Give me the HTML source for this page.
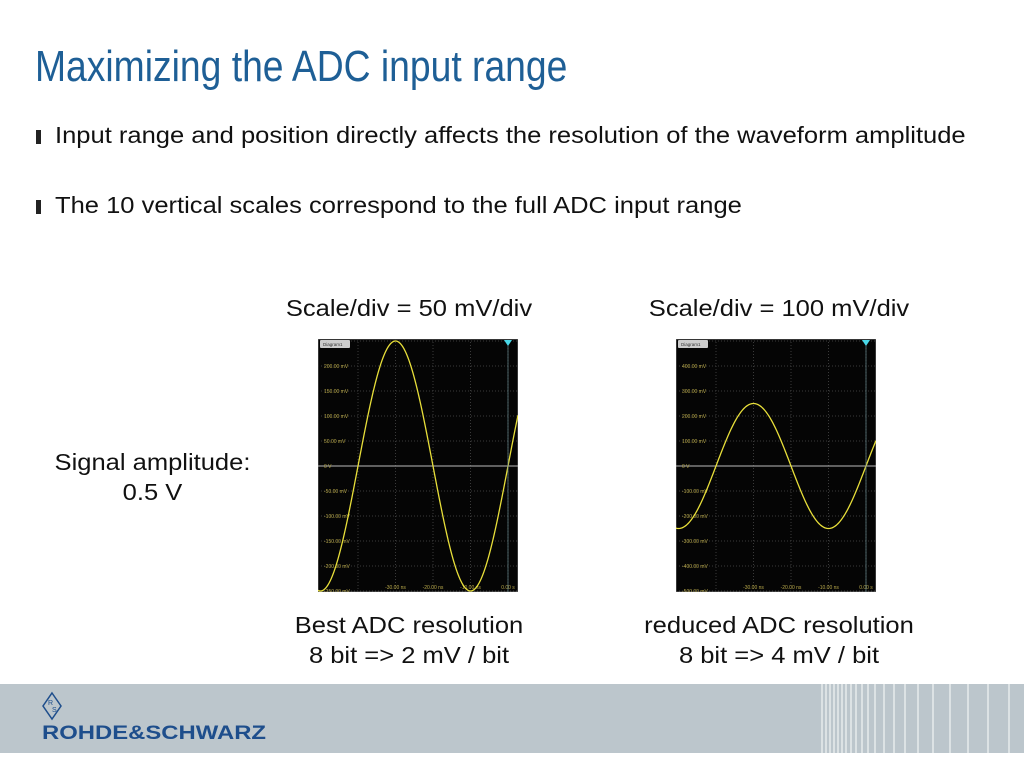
<!DOCTYPE html>
<html><head><meta charset="utf-8"><style>
body{margin:0;width:1024px;height:768px;background:#fff;position:relative;overflow:hidden;font-family:"Liberation Sans",sans-serif;}
.t{position:absolute;white-space:nowrap;color:#111;}
#title{left:35px;top:42px;font-size:44px;color:#1e5f96;transform:scaleX(0.847);transform-origin:left top;}
.b{font-size:23px;left:55px;transform:scaleX(1.11);transform-origin:left top;}
.bm{position:absolute;left:36px;width:5px;height:14px;background:#222;}
.c{font-size:23px;text-align:center;transform:scaleX(1.11);transform-origin:center top;}
#footer{position:absolute;left:0;top:684px;width:1024px;height:69px;background:#bcc6cc;}
</style></head><body>
<div class="t" id="title">Maximizing the ADC input range</div>
<div class="bm" style="top:130px"></div>
<div class="t b" style="top:122px">Input range and position directly affects the resolution of the waveform amplitude</div>
<div class="bm" style="top:200px"></div>
<div class="t b" style="top:192px">The 10 vertical scales correspond to the full ADC input range</div>
<div class="t c" style="left:259px;top:295px;width:300px">Scale/div = 50 mV/div</div>
<div class="t c" style="left:629px;top:295px;width:300px">Scale/div = 100 mV/div</div>
<div class="t c" style="left:50px;top:447px;width:205px;line-height:30px">Signal amplitude:<br>0.5 V</div>
<div class="t c" style="left:259px;top:610px;width:300px;line-height:30px">Best ADC resolution<br>8 bit =&gt; 2 mV / bit</div>
<div class="t c" style="left:629px;top:610px;width:300px;line-height:30px">reduced ADC resolution<br>8 bit =&gt; 4 mV / bit</div>
<svg id="s1" style="position:absolute;left:318px;top:339px" width="200" height="253"></svg>
<svg id="s2" style="position:absolute;left:676px;top:339px" width="200" height="253"></svg>
<div id="footer">
<svg style="position:absolute;left:0;top:0" width="1024" height="69">
<g><polygon points="52,9 61,22 52,35 43,22" fill="none" stroke="#1e4e8c" stroke-width="1.5"/><text x="48" y="21" font-size="7" fill="#1e4e8c" font-family="Liberation Sans">R</text><text x="52" y="28" font-size="7" fill="#1e4e8c" font-family="Liberation Sans">S</text></g>
<text x="42" y="55" font-size="19" font-weight="bold" fill="#1e4e8c" font-family="Liberation Sans" textLength="224" lengthAdjust="spacingAndGlyphs">ROHDE&amp;SCHWARZ</text>
<g id="stripes"></g>
</svg></div>
<script>
const voltsPerDiv=[50,100];
const amplitudeMv=[250,250];
const periodNs=[40,40];
const yTicksLeft=["200.00 mV","150.00 mV","100.00 mV","50.00 mV","0 V","-50.00 mV","-100.00 mV","-150.00 mV","-200.00 mV","-250.00 mV"];
const yTicksRight=["400.00 mV","300.00 mV","200.00 mV","100.00 mV","0 V","-100.00 mV","-200.00 mV","-300.00 mV","-400.00 mV","-500.00 mV"];
const xTicks=[-40,-30,-20,-10,0];
const xTickLabels=["","-30.00 ns","-20.00 ns","-10.00 ns","0.00 s"];
const NS="http://www.w3.org/2000/svg";
function mk(p,tag,a){const e=document.createElementNS(NS,tag);for(const k in a)e.setAttribute(k,a[k]);p.appendChild(e);return e;}
function draw(id,i,ticks){
 const s=document.getElementById(id);
 const W=200,H=253,zeroY=127,pxDiv=25,xPerNs=3.75,x0=190;
 const xs=t=>x0+t*xPerNs, ys=v=>zeroY-v/voltsPerDiv[i]*pxDiv;
 const bg=mk(s,'rect',{x:0,y:0,width:W,height:H,fill:'#050505',stroke:'#666'});
 
 for(let k=-5;k<=5;k++){const y=zeroY+k*pxDiv;if(k!==0){const l=mk(s,'line',{x1:0,x2:W,y1:y,y2:y,stroke:'#3a3a3a','stroke-dasharray':'1,2'});}}
 xTicks.forEach((t,j)=>{const l=mk(s,'line',{x1:xs(t),x2:xs(t),y1:0,y2:H,stroke:'#3a3a3a','stroke-dasharray':'1,2'});
  const tx=mk(s,'text',{x:xs(t),y:H-3,'font-size':5,fill:'#b8a84a','text-anchor':'middle'});tx.textContent=xTickLabels[j];});
 const z=mk(s,'line',{x1:0,x2:W,y1:zeroY,y2:zeroY,stroke:'#bbb','stroke-width':1});
 ticks.forEach((lb,j)=>{const tx=mk(s,'text',{x:6,y:zeroY+(j-4)*pxDiv+2,'font-size':5,fill:'#b8a84a'});tx.textContent=lb;});
 let d='';for(let px=0;px<=W;px++){const t=(px-x0)/xPerNs;const v=amplitudeMv[i]*Math.sin(2*Math.PI*t/periodNs[i]);d+=(px?'L':'M')+px+','+ys(v).toFixed(2);}
 const w=mk(s,'path',{d:d,fill:'none',stroke:'#e8df3a','stroke-width':1.3});
 const tab=mk(s,'rect',{x:2,y:1,width:30,height:8,rx:1,fill:'#ccc'});
 const tt=mk(s,'text',{x:5,y:7,'font-size':4.5,fill:'#333'});tt.textContent='Diagram1';
 const trg=mk(s,'polygon',{points:`${x0-4},1 ${x0+4},1 ${x0},7`,fill:'#4ad8e8'});
 const tl=mk(s,'line',{x1:x0,x2:x0,y1:7,y2:H,stroke:'#6a8a90','stroke-width':0.7});
}
draw('s1',0,yTicksLeft);draw('s2',1,yTicksRight);
const g=document.getElementById('stripes');
[822,826,830,834,838,842,846,851,856,862,868,875,884,894,905,918,933,950,968,988,1009].forEach(x=>{const l=mk(g,'line',{x1:x,x2:x,y1:0,y2:69,stroke:'#f2f4f5','stroke-width':1.2});});
</script>
</body></html>
